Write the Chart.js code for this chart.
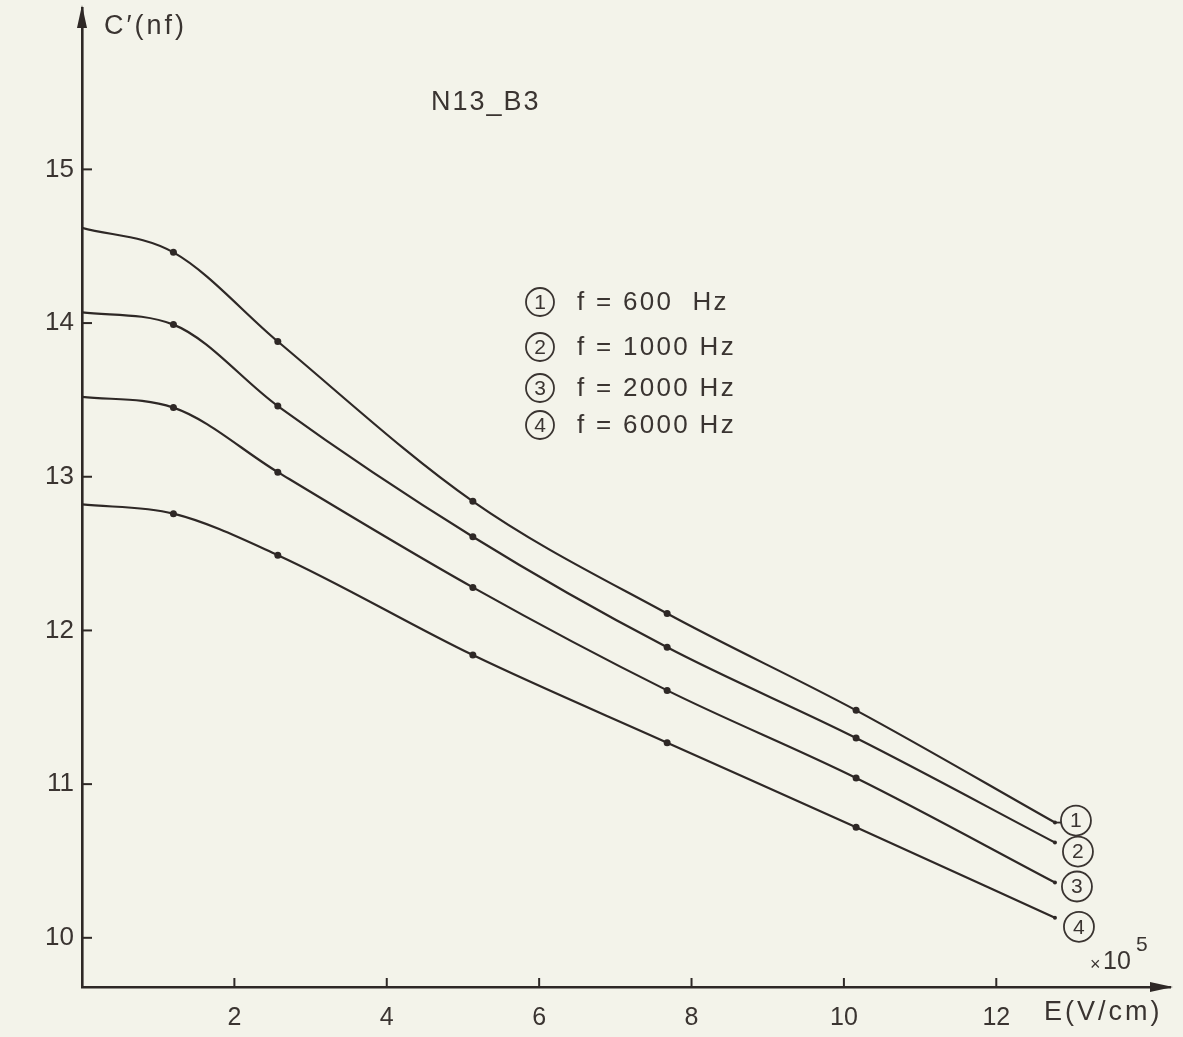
<!DOCTYPE html>
<html><head><meta charset="utf-8">
<script src="https://cdn.jsdelivr.net/npm/chart.js@4/dist/chart.umd.min.js"></script>
<style>html,body{margin:0;padding:0;background:#f3f3ea;}#wrap{width:1183px;height:1037px;}</style>
</head><body><div id="wrap"><canvas id="c" width="1183" height="1037"></canvas></div>
<script>
// ---- data ----
const fieldE = [0, 1.2, 2.57, 5.13, 7.68, 10.16, 12.77];           // E (x10^5 V/cm)
const cap600  = [14.62, 14.46, 13.88, 12.84, 12.11, 11.48, 10.75];  // C'(nF), f = 600 Hz
const cap1000 = [14.07, 13.99, 13.46, 12.61, 11.89, 11.30, 10.62];  // f = 1000 Hz
const cap2000 = [13.52, 13.45, 13.03, 12.28, 11.61, 11.04, 10.36];  // f = 2000 Hz
const cap6000 = [12.82, 12.76, 12.49, 11.84, 11.27, 10.72, 10.13];  // f = 6000 Hz
const xTicks = [2, 4, 6, 8, 10, 12];
const yTicks = [10, 11, 12, 13, 14, 15];
const seriesNames = ['f = 600  Hz', 'f = 1000 Hz', 'f = 2000 Hz', 'f = 6000 Hz'];
const seriesMarks = ['1', '2', '3', '4'];
const chartTitle = 'N13_B3';
const yTitle = 'C\u2032(nf)';
const xTitle = 'E(V/cm)';

const INK = '#2e2826';
const TXT = '#3a3431';
const FONT = '"Liberation Sans", "DejaVu Sans", sans-serif';
const series = [cap600, cap1000, cap2000, cap6000];

const datasets = series.map((vals, i) => ({
  label: seriesNames[i],
  data: fieldE.map((e, k) => ({x: e, y: vals[k]})),
  borderColor: INK,
  backgroundColor: INK,
  borderWidth: 2.2,
  cubicInterpolationMode: 'monotone',
  pointRadius: fieldE.map((e, k) => k === 0 ? 0 : (k === fieldE.length - 1 ? 2 : 3.5)),
  pointBackgroundColor: INK,
  pointBorderWidth: 0,
  fill: false
}));

const endOffsets = [[21, -2], [23, 9], [22, 4], [24, 9]];

function circledDigit(ctx, cx, cy, r, d) {
  ctx.save();
  ctx.strokeStyle = TXT; ctx.lineWidth = 1.8;
  ctx.beginPath(); ctx.arc(cx, cy, r, 0, Math.PI * 2); ctx.stroke();
  ctx.fillStyle = TXT; ctx.font = '21px ' + FONT;
  ctx.textAlign = 'center'; ctx.textBaseline = 'middle';
  ctx.fillText(d, cx, cy + 1);
  ctx.restore();
}

const decor = {
  id: 'decor',
  beforeDraw(chart) {
    const ctx = chart.ctx;
    ctx.save(); ctx.fillStyle = '#f3f3ea';
    ctx.fillRect(0, 0, chart.width, chart.height); ctx.restore();
  },
  afterDraw(chart) {
    const ctx = chart.ctx;
    const xs = chart.scales.x, ys = chart.scales.y;
    const L = chart.chartArea.left, B = chart.chartArea.bottom;
    ctx.save();
    ctx.strokeStyle = INK; ctx.fillStyle = INK; ctx.lineWidth = 2;
    // inside tick marks
    xTicks.forEach(v => { const p = xs.getPixelForValue(v);
      ctx.beginPath(); ctx.moveTo(p, B); ctx.lineTo(p, B - 9); ctx.stroke(); });
    yTicks.forEach(v => { const p = ys.getPixelForValue(v);
      ctx.beginPath(); ctx.moveTo(L, p); ctx.lineTo(L + 10, p); ctx.stroke(); });
    // arrows
    const T = chart.chartArea.top, R = chart.chartArea.right;
    ctx.beginPath(); ctx.moveTo(L, T - 3); ctx.lineTo(L - 5, T + 20); ctx.lineTo(L + 5, T + 20); ctx.closePath(); ctx.fill();
    ctx.beginPath(); ctx.moveTo(R + 3, B); ctx.lineTo(R - 20, B - 5); ctx.lineTo(R - 20, B + 5); ctx.closePath(); ctx.fill();
    // texts
    ctx.fillStyle = TXT; ctx.textBaseline = 'middle'; ctx.textAlign = 'left';
    ctx.font = '27px ' + FONT; ctx.letterSpacing = '3px';
    ctx.fillText(yTitle, 104, 27);
    ctx.fillText(xTitle, 1044, 1013);
    ctx.font = '27px ' + FONT; ctx.letterSpacing = '2px';
    ctx.fillText(chartTitle, 431, 103);
    ctx.letterSpacing = '0px';
    ctx.font = '18px ' + FONT; ctx.fillText('\u00d7', 1090, 965);
    ctx.font = '25px ' + FONT; ctx.fillText('10', 1103, 962);
    ctx.font = '21px ' + FONT; ctx.fillText('5', 1136, 945);
    // legend
    const legY = [302, 347, 388, 425];
    seriesNames.forEach((n, i) => {
      circledDigit(ctx, 540, legY[i], 14, seriesMarks[i]);
      ctx.fillStyle = TXT; ctx.font = '26px ' + FONT; ctx.letterSpacing = '2.3px';
      ctx.textAlign = 'left'; ctx.textBaseline = 'middle';
      ctx.fillText(n, 577, legY[i] + 1);
      ctx.letterSpacing = '0px';
    });
    // end labels
    chart.data.datasets.forEach((ds, i) => {
      const meta = chart.getDatasetMeta(i);
      const last = meta.data[meta.data.length - 1];
      const [dx, dy] = endOffsets[i];
      ctx.strokeStyle = INK; ctx.lineWidth = 1.8;
      if (i === 0) { ctx.beginPath(); ctx.moveTo(last.x, last.y); ctx.lineTo(last.x + 7, last.y); ctx.stroke(); }
      circledDigit(ctx, last.x + dx, last.y + dy, 15, seriesMarks[i]);
    });
    ctx.restore();
  }
};

new Chart(document.getElementById('c'), {
  type: 'line',
  data: {datasets},
  options: {
    responsive: false, animation: false, devicePixelRatio: 1,
    layout: {padding: {left: 0, right: 13, top: 8, bottom: 0}},
    plugins: {legend: {display: false}, tooltip: {enabled: false}},
    scales: {
      x: {
        type: 'linear', min: 0, max: 14.28,
        afterBuildTicks: s => { s.ticks = xTicks.map(v => ({value: v})); },
        afterFit: s => { s.height = 50; s.paddingLeft = 0; s.paddingRight = 0; },
        grid: {display: false, drawTicks: false},
        border: {display: true, color: INK, width: 2.6},
        ticks: {color: TXT, font: {size: 25, family: FONT}, padding: 16, maxRotation: 0, autoSkip: false}
      },
      y: {
        type: 'linear', min: 9.68, max: 16.05,
        afterBuildTicks: s => { s.ticks = yTicks.map(v => ({value: v})); },
        afterFit: s => { s.width = 82; s.paddingTop = 0; s.paddingBottom = 0; },
        grid: {display: false, drawTicks: false},
        border: {display: true, color: INK, width: 2.6},
        ticks: {color: TXT, font: {size: 26, family: FONT}, padding: 8, autoSkip: false}
      }
    }
  },
  plugins: [decor]
});
</script></body></html>
